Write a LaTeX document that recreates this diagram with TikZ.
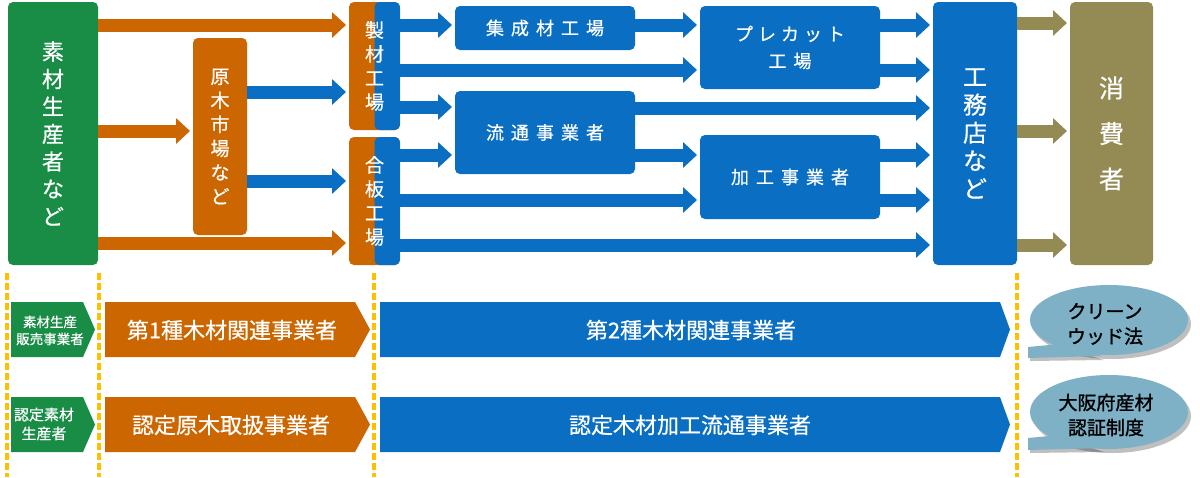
\documentclass[tikz,border=0pt]{standalone}
\usepackage{fontspec}
\setmainfont{Noto Sans CJK JP}
\newfontfamily\jpm[FakeBold=0.6]{Noto Sans CJK JP}
\newfontfamily\jpb[FakeBold=1.3]{Noto Sans CJK JP}
\usetikzlibrary{arrows.meta,calc}
\definecolor{cgreen}{HTML}{198C46}
\definecolor{corange}{HTML}{CC6600}
\definecolor{cblue}{HTML}{0A6FC2}
\definecolor{colive}{HTML}{948A54}
\definecolor{cbubble}{HTML}{7FB1C6}
\definecolor{cyellow}{HTML}{FFC000}
\newcommand{\gp}{\hspace{7pt}}
\newcommand{\gq}{\hspace{5pt}}
\begin{document}
\begin{tikzpicture}[x=1pt,y=-1pt,
  box/.style={anchor=north west, inner sep=0pt, outer sep=0pt, rounded corners=5pt, text=white, align=center},
  flow/.style={line width=13pt, -{Triangle[width=25pt,length=14pt]}, shorten >=3pt},
  vbig/.style={font=\jpm\fontsize{22}{27.5}\selectfont},
  vmid/.style={font=\jpm\fontsize{19}{24}\selectfont},
  hlab/.style={font=\jpm\fontsize{18}{27}\selectfont},
  blab/.style={text=white, inner sep=0pt, align=center, font=\jpm\fontsize{22}{26}\selectfont},
  slab/.style={text=white, inner sep=0pt, align=center, font=\jpm\fontsize{13.5}{17}\selectfont},
  bubtxt/.style={text=black, inner sep=0pt, align=center, font=\jpb\fontsize{19}{25}\selectfont},
  sep/.style={cyellow, line width=4pt, dash pattern=on 7pt off 3pt}
]
\useasboundingbox (0,0) rectangle (1200,477);

% ---- top boxes ----
\node[box, fill=cgreen, minimum width=90pt, minimum height=263pt, vbig] (src) at (8,2) {素\\材\\生\\産\\者\\な\\ど};
\node[box, fill=corange, minimum width=54pt, minimum height=197pt, vmid] (mkt) at (193,38) {原\\木\\市\\場\\な\\ど};
\node[box, fill=corange, minimum width=51pt, minimum height=128pt, vmid,
  path picture={\fill[cblue] (path picture bounding box.north) rectangle (path picture bounding box.south east);}] (saw) at (349,2) {製\\材\\工\\場};
\node[box, fill=corange, minimum width=51pt, minimum height=128pt, vmid,
  path picture={\fill[cblue] (path picture bounding box.north) rectangle (path picture bounding box.south east);}] (ply) at (349,137) {合\\板\\工\\場};
\node[box, fill=cblue, minimum width=180pt, minimum height=44pt, hlab] (glu) at (455,6) {集\gp 成\gp 材\gp 工\gp 場};
\node[box, fill=cblue, minimum width=180pt, minimum height=83pt, hlab] (dist) at (455,91) {流\gp 通\gp 事\gp 業\gp 者};
\node[box, fill=cblue, minimum width=180pt, minimum height=83pt, hlab] (pre) at (700,6) {プ\gq レ\gq カ\gq ッ\gq ト\\工\gp 場};
\node[box, fill=cblue, minimum width=180pt, minimum height=84pt, hlab] (proc) at (700,135) {加\gp 工\gp 事\gp 業\gp 者};
\node[box, fill=cblue, minimum width=84pt, minimum height=263pt, font=\jpm\fontsize{24}{28}\selectfont] (build) at (933,2) {工\\務\\店\\な\\ど};
\node[box, fill=colive, minimum width=83pt, minimum height=263pt, font=\jpm\fontsize{25}{45.5}\selectfont] (cons) at (1070,2) {消\\費\\者};

% ---- flows ----
\draw[flow, corange] (src.east |- 0,25) -- (saw.west |- 0,25);
\draw[flow, corange] (src.east |- 0,131) -- (mkt.west |- 0,131);
\draw[flow, corange] (src.east |- 0,243) -- (ply.west |- 0,243);
\draw[flow, cblue] (mkt.east |- 0,92) -- (saw.west |- 0,92);
\draw[flow, cblue] (mkt.east |- 0,181) -- (ply.west |- 0,181);
\draw[flow, cblue] (saw.east |- 0,25) -- (glu.west |- 0,25);
\draw[flow, cblue] (saw.east |- 0,70) -- (pre.west |- 0,70);
\draw[flow, cblue] (saw.east |- 0,107) -- (dist.west |- 0,107);
\draw[flow, cblue] (ply.east |- 0,155) -- (dist.west |- 0,155);
\draw[flow, cblue] (ply.east |- 0,200) -- (proc.west |- 0,200);
\draw[flow, cblue] (ply.east |- 0,245) -- (build.west |- 0,245);
\draw[flow, cblue] (glu.east |- 0,25) -- (pre.west |- 0,25);
\draw[flow, cblue] (dist.east |- 0,108) -- (build.west |- 0,108);
\draw[flow, cblue] (dist.east |- 0,155) -- (proc.west |- 0,155);
\draw[flow, cblue] (pre.east |- 0,25) -- (build.west |- 0,25);
\draw[flow, cblue] (pre.east |- 0,70) -- (build.west |- 0,70);
\draw[flow, cblue] (proc.east |- 0,155) -- (build.west |- 0,155);
\draw[flow, cblue] (proc.east |- 0,200) -- (build.west |- 0,200);
\draw[flow, colive] (build.east |- 0,23) -- (cons.west |- 0,23);
\draw[flow, colive] (build.east |- 0,131) -- (cons.west |- 0,131);
\draw[flow, colive] (build.east |- 0,245) -- (cons.west |- 0,245);

% ---- separators ----
\draw[sep] (7,273) -- (7,477);
\draw[sep] (98.5,273) -- (98.5,477);
\draw[sep] (373.5,273) -- (373.5,477);
\draw[sep] (1016.5,273) -- (1016.5,477);

% ---- lower bands ----
\fill[cgreen] (11,302) -- (83,302) -- (95,329.5) -- (83,357) -- (11,357) -- cycle;
\node[slab] (g1) at (50,330.5) {素材生産\\販売事業者};
\fill[cgreen] (11,397) -- (83,397) -- (95,424.5) -- (83,452) -- (11,452) -- cycle;
\node[slab, font=\jpm\fontsize{15}{19}\selectfont] (g2) at (44,424) {認定素材\\生産者};

\fill[corange] (105,302) -- (355,302) -- (370,329.5) -- (355,357) -- (105,357) -- cycle;
\node[blab] (o1) at (232,330) {第1種木材関連事業者};
\fill[corange] (105,397) -- (355,397) -- (370,424.5) -- (355,452) -- (105,452) -- cycle;
\node[blab] (o2) at (231,425) {認定原木取扱事業者};

\fill[cblue] (380,302) -- (1000,302) -- (1010,329.5) -- (1000,357) -- (380,357) -- cycle;
\node[blab] (b1) at (691,330) {第2種木材関連事業者};
\fill[cblue] (380,397) -- (1000,397) -- (1010,424.5) -- (1000,452) -- (380,452) -- cycle;
\node[blab] (b2) at (690,425) {認定木材加工流通事業者};

% ---- bubbles ----
\fill[black, opacity=0.25] (1112,324) ellipse [x radius=79, y radius=35];
\fill[black, opacity=0.25] (1030,350) -- (1062,347) -- (1104,360) -- (1030,361) -- cycle;
\fill[cbubble] (1028,347) -- (1060,344) -- (1102,356) -- (1028,358) -- cycle;
\fill[cbubble] (1109,320) ellipse [x radius=79, y radius=35];
\node[bubtxt] (c1) at (1105,324) {クリーン\\ウッド法};

\fill[black, opacity=0.25] (1112,416) ellipse [x radius=79, y radius=37];
\fill[black, opacity=0.25] (1030,441) -- (1062,438) -- (1104,452) -- (1030,453) -- cycle;
\fill[cbubble] (1028,438) -- (1060,435) -- (1102,448) -- (1028,450) -- cycle;
\fill[cbubble] (1109,412) ellipse [x radius=79, y radius=37];
\node[bubtxt] (c2) at (1106,415) {大阪府産材\\認証制度};
\end{tikzpicture}
\end{document}
